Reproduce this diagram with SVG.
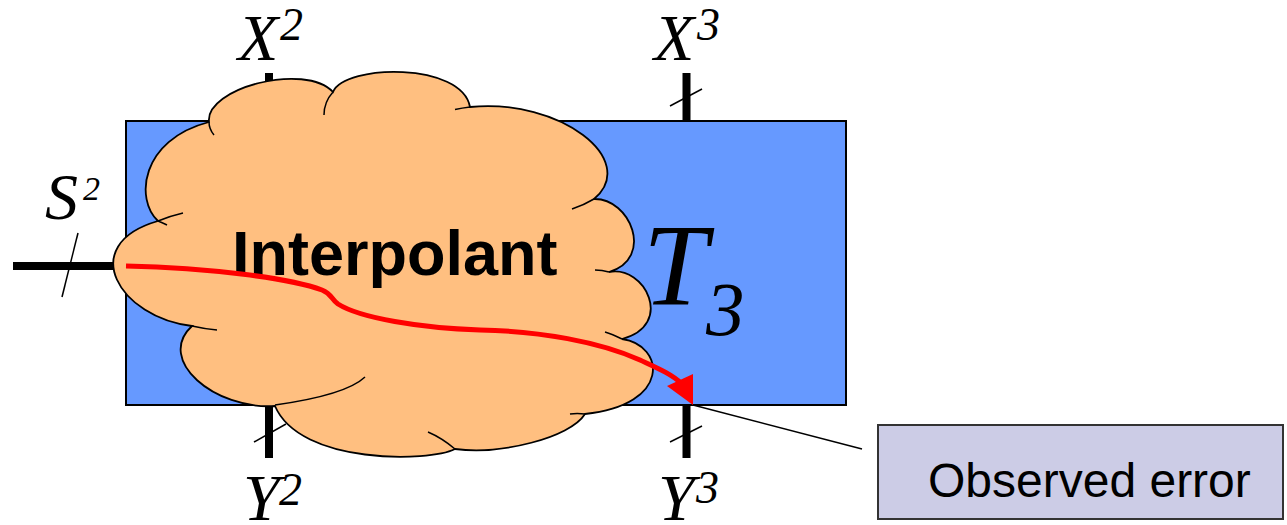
<svg xmlns="http://www.w3.org/2000/svg" width="1287" height="525" viewBox="0 0 1287 525">
<style>
.tick{stroke:#000;stroke-width:8;fill:none}
.slash{stroke:#000;stroke-width:1.5;fill:none}
.math{font-family:"Liberation Serif","Times New Roman",serif;font-style:italic;fill:#000}
.hook{fill:none;stroke:#000;stroke-width:1.5}
</style>
<rect width="1287" height="525" fill="#fff"/>
<g id="T3">
<rect x="126" y="121" width="720" height="284" fill="#6699FF" stroke="#000" stroke-width="2"/>
<text class="math" x="643" y="305" font-size="116">T</text>
<text class="math" x="706" y="335" font-size="77">3</text>
</g>
<g id="ports">
<line class="tick" x1="269" y1="73" x2="269" y2="121"/>
<line class="tick" x1="686.5" y1="73" x2="686.5" y2="121"/>
<line class="slash" x1="670" y1="106" x2="702" y2="89"/>
<line class="tick" x1="269" y1="405" x2="269" y2="458"/>
<line class="slash" x1="254" y1="442" x2="286" y2="424"/>
<line class="tick" x1="686.5" y1="405" x2="686.5" y2="458"/>
<line class="slash" x1="670" y1="442" x2="702" y2="426"/>
<line class="tick" x1="13" y1="266" x2="126" y2="266" stroke-width="9"/>
<line class="slash" x1="78" y1="233" x2="62" y2="297"/>
<text class="math" x="238" y="60" font-size="66">X</text>
<text class="math" x="280" y="40" font-size="46">2</text>
<text class="math" x="654" y="60" font-size="66">X</text>
<text class="math" x="697" y="40" font-size="46">3</text>
<text class="math" x="45" y="219" font-size="66">S</text>
<text class="math" x="83" y="200" font-size="34">2</text>
<text class="math" x="243" y="520" font-size="66">Y</text>
<text class="math" x="279" y="505" font-size="46">2</text>
<text class="math" x="658" y="520" font-size="66">Y</text>
<text class="math" x="696" y="503" font-size="46">3</text>
</g>
<g id="interpolant">
<path d="M209,122 C205,88 305,62 333,92 C345,64 462,62 470,107 C560,98 640,160 594,199 C630,198 655,258 609,272 C645,265 675,325 622,339 C665,345 672,405 585,414 C570,438 500,455 455,449 C430,462 300,465 275,406 C215,410 155,360 192,326 C120,318 75,245 158,221 C135,200 140,140 209,122 Z" fill="#FFBF80" stroke="#000" stroke-width="1.8"/>
<path class="hook" d="M209,122 Q209,129 214,135 M333,92 Q324,102 324,115 M455,109.5 Q462,108 470,107 M594,199 Q584,205 572,209 M609,272 Q602,270 595,270 M622,339 Q612,334 605,332 M585,414 Q577,413 570,414 M455,449 Q442,438 428,432 M275,405 Q346,395 365,377 M192,326 Q205,329 217,330 M158,221 Q170,216 183,213 M158,221 Q163,223 167,225"/>
<text x="232" y="275" font-family="Liberation Sans, Arial, sans-serif" font-weight="bold" font-size="63" fill="#000">Interpolant</text>
</g>
<g id="connectors">
<path d="M126,266 C210,268 290,278 322,290 C332,294 331,299 338,304 C360,318 420,328 480,330 C540,331 600,342 640,360 C655,367 672,374 682,384" fill="none" stroke="#FF0000" stroke-width="5"/>
<polygon points="693,405 667,386 693,374" fill="#FF0000"/>
<line x1="693" y1="405" x2="862" y2="449" stroke="#000" stroke-width="1.5"/>
</g>
<g id="observed">
<rect x="878" y="425" width="405" height="94" fill="#CCCCE6" stroke="#333" stroke-width="2"/>
<text x="928" y="497" font-family="Liberation Sans, Arial, sans-serif" font-size="48" fill="#000">Observed error</text>
</g>
</svg>
